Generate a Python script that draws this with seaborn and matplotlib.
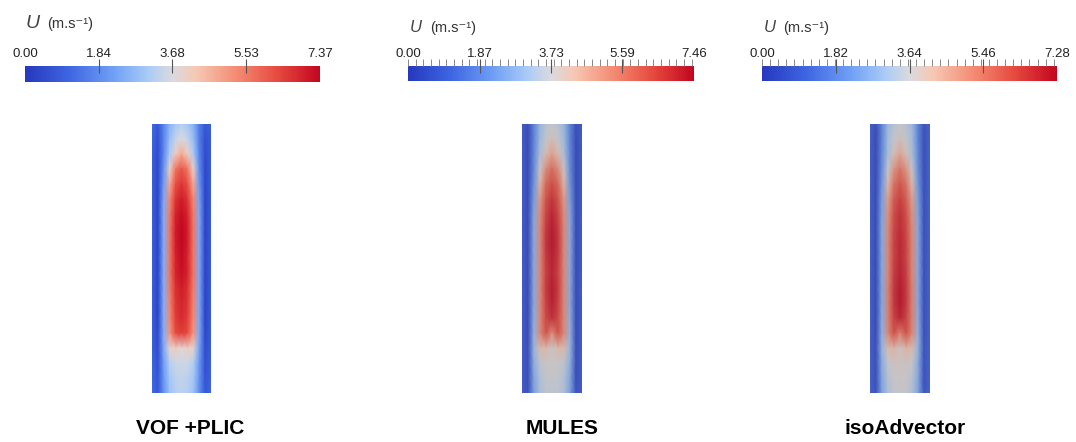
import matplotlib
matplotlib.use("Agg")
import numpy as np
import pandas as pd
import matplotlib.pyplot as plt
import seaborn as sns
from matplotlib.colors import LinearSegmentedColormap, ListedColormap, Normalize
from matplotlib.cm import ScalarMappable
from matplotlib.ticker import MultipleLocator

# ---------------- data (velocity magnitude, m/s) ----------------
methods = ["VOF +PLIC", "MULES", "isoAdvector"]
u_max = [7.37, 7.46, 7.28]
tick_labels = [
    ["0.00", "1.84", "3.68", "5.53", "7.37"],
    ["0.00", "1.87", "3.73", "5.59", "7.46"],
    ["0.00", "1.82", "3.64", "5.46", "7.28"],
]

# rows: top of pipe -> bottom ; columns: left wall -> right wall
vof_plic_u = [
    [1.2, 0.8, 1.7, 2.6, 3.0, 3.2, 3.0, 2.6, 1.6, 0.8, 1.0],
    [1.1, 0.6, 1.7, 2.8, 3.4, 3.7, 3.4, 2.8, 1.6, 0.6, 0.9],
    [1.0, 0.5, 1.8, 3.1, 4.1, 4.8, 4.1, 3.1, 1.7, 0.5, 0.9],
    [1.0, 0.4, 2.0, 4.0, 5.6, 6.1, 5.6, 4.0, 1.9, 0.4, 0.9],
    [1.0, 0.4, 2.2, 4.8, 6.2, 6.6, 6.2, 4.8, 2.1, 0.4, 0.9],
    [1.0, 0.3, 2.4, 5.3, 6.6, 7.0, 6.6, 5.3, 2.3, 0.3, 0.9],
    [1.0, 0.3, 2.5, 5.5, 6.9, 7.25, 6.9, 5.5, 2.4, 0.3, 0.9],
    [1.0, 0.3, 2.5, 5.6, 7.0, 7.35, 7.0, 5.6, 2.4, 0.3, 0.9],
    [1.0, 0.3, 2.5, 5.6, 7.0, 7.37, 7.0, 5.6, 2.4, 0.3, 0.9],
    [1.0, 0.3, 2.5, 5.6, 6.9, 7.3, 6.9, 5.6, 2.4, 0.3, 0.9],
    [1.0, 0.3, 2.5, 5.6, 6.9, 7.2, 6.9, 5.6, 2.4, 0.3, 0.9],
    [1.0, 0.3, 2.5, 5.5, 6.7, 7.0, 6.7, 5.5, 2.4, 0.3, 0.9],
    [1.0, 0.3, 2.5, 5.4, 6.6, 6.9, 6.6, 5.4, 2.4, 0.3, 0.9],
    [1.0, 0.3, 2.5, 5.3, 6.5, 6.8, 6.5, 5.3, 2.4, 0.3, 0.9],
    [1.0, 0.4, 2.5, 5.1, 6.3, 6.5, 6.3, 5.1, 2.4, 0.4, 0.9],
    [1.0, 0.5, 2.4, 3.9, 4.1, 3.8, 4.1, 3.9, 2.3, 0.5, 0.9],
    [1.1, 0.6, 2.2, 3.2, 3.5, 3.5, 3.5, 3.2, 2.1, 0.6, 1.0],
    [1.1, 0.7, 2.1, 3.0, 3.3, 3.4, 3.3, 3.0, 2.0, 0.7, 1.0],
    [1.2, 0.8, 2.0, 2.9, 3.2, 3.3, 3.2, 2.9, 1.9, 0.8, 1.1],
]

mules_u = [
    [0.8, 0.4, 1.8, 3.0, 3.5, 3.7, 3.5, 3.0, 1.8, 0.4, 0.8],
    [0.8, 0.3, 1.8, 3.1, 3.7, 4.0, 3.7, 3.1, 1.8, 0.3, 0.8],
    [0.8, 0.3, 1.9, 3.3, 4.2, 4.8, 4.2, 3.3, 1.9, 0.3, 0.8],
    [0.8, 0.3, 2.0, 3.8, 5.2, 5.8, 5.2, 3.8, 2.0, 0.3, 0.8],
    [0.8, 0.3, 2.2, 4.4, 5.9, 6.4, 5.9, 4.4, 2.2, 0.3, 0.8],
    [0.8, 0.3, 2.4, 4.9, 6.3, 6.9, 6.3, 4.9, 2.4, 0.3, 0.8],
    [0.8, 0.3, 2.6, 5.2, 6.6, 7.2, 6.6, 5.2, 2.6, 0.3, 0.8],
    [0.8, 0.3, 2.7, 5.3, 6.8, 7.4, 6.8, 5.3, 2.7, 0.3, 0.8],
    [0.8, 0.3, 2.7, 5.3, 6.9, 7.46, 6.9, 5.3, 2.7, 0.3, 0.8],
    [0.8, 0.3, 2.7, 5.3, 6.8, 7.3, 6.8, 5.3, 2.7, 0.3, 0.8],
    [0.8, 0.3, 2.7, 5.3, 6.7, 7.25, 6.7, 5.3, 2.7, 0.3, 0.8],
    [0.8, 0.3, 2.7, 5.3, 6.8, 7.4, 6.8, 5.3, 2.7, 0.3, 0.8],
    [0.8, 0.3, 2.7, 5.3, 6.7, 7.3, 6.7, 5.3, 2.7, 0.3, 0.8],
    [0.8, 0.3, 2.8, 5.3, 6.5, 7.0, 6.5, 5.3, 2.8, 0.3, 0.8],
    [0.8, 0.3, 2.9, 5.3, 6.3, 5.2, 6.3, 5.3, 2.9, 0.3, 0.8],
    [0.8, 0.4, 3.0, 4.2, 4.3, 3.8, 4.3, 4.2, 3.0, 0.4, 0.8],
    [0.8, 0.4, 2.8, 3.6, 3.8, 3.8, 3.8, 3.6, 2.8, 0.4, 0.8],
    [0.8, 0.4, 2.6, 3.4, 3.7, 3.7, 3.7, 3.4, 2.6, 0.4, 0.8],
    [0.8, 0.5, 2.5, 3.3, 3.6, 3.6, 3.6, 3.3, 2.5, 0.5, 0.8],
]

iso_advector_u = [
    [0.9, 0.4, 1.8, 3.0, 3.4, 3.6, 3.4, 3.0, 1.8, 0.5, 1.0],
    [0.9, 0.3, 1.8, 3.1, 3.6, 3.9, 3.6, 3.1, 1.8, 0.4, 1.0],
    [0.9, 0.3, 1.9, 3.2, 4.0, 4.6, 4.0, 3.2, 1.9, 0.4, 1.0],
    [0.9, 0.3, 2.0, 3.6, 4.9, 5.5, 4.9, 3.6, 2.0, 0.4, 1.0],
    [0.9, 0.3, 2.2, 4.2, 5.6, 6.1, 5.6, 4.2, 2.2, 0.4, 1.0],
    [0.9, 0.3, 2.4, 4.7, 6.0, 6.5, 6.0, 4.7, 2.4, 0.4, 1.0],
    [0.9, 0.3, 2.5, 5.0, 6.3, 6.8, 6.3, 5.0, 2.5, 0.4, 1.0],
    [0.9, 0.3, 2.6, 5.1, 6.4, 6.9, 6.4, 5.1, 2.6, 0.4, 1.0],
    [0.9, 0.3, 2.6, 5.2, 6.5, 7.0, 6.5, 5.2, 2.6, 0.4, 1.0],
    [0.9, 0.3, 2.6, 5.2, 6.5, 7.0, 6.5, 5.2, 2.6, 0.4, 1.0],
    [0.9, 0.3, 2.6, 5.2, 6.6, 7.1, 6.6, 5.2, 2.6, 0.4, 1.0],
    [0.9, 0.3, 2.6, 5.3, 6.7, 7.25, 6.7, 5.3, 2.6, 0.4, 1.0],
    [0.9, 0.3, 2.6, 5.3, 6.7, 7.28, 6.7, 5.3, 2.6, 0.4, 1.0],
    [0.9, 0.3, 2.7, 5.3, 6.5, 7.0, 6.5, 5.3, 2.7, 0.4, 1.0],
    [0.9, 0.3, 2.8, 5.2, 6.2, 5.3, 6.2, 5.2, 2.8, 0.4, 1.0],
    [0.9, 0.4, 2.9, 4.1, 4.3, 3.8, 4.3, 4.1, 2.9, 0.5, 1.0],
    [0.9, 0.4, 2.7, 3.6, 3.8, 3.8, 3.8, 3.6, 2.7, 0.5, 1.0],
    [0.9, 0.4, 2.6, 3.4, 3.7, 3.7, 3.7, 3.4, 2.6, 0.5, 1.0],
    [0.9, 0.5, 2.5, 3.3, 3.6, 3.6, 3.6, 3.3, 2.5, 0.6, 1.0],
]

fields = [vof_plic_u, mules_u, iso_advector_u]

# ---------------- style / layout (pixels) ----------------
W, H = 1076, 442
pipe_px = [(152, 124, 211, 393), (522, 124, 582, 393), (870, 124, 930, 393)]
cbar_px = [(25, 66, 320, 82), (408, 66, 694, 81), (762, 66, 1057, 81)]
title_px = [(26, 47, 28, 14), (410, 430, 32, 12), (764, 783, 32, 12)]
label_x = [190, 562, 905]
show_minor = [False, True, True]
shade_amount = [0.0, 0.2, 0.2]   # render shading (grey cast) of the field images

sns.set_style("white")
plt.rcParams["font.family"] = ["Liberation Sans", "DejaVu Sans"]

cmap = LinearSegmentedColormap.from_list(
    "cool_to_warm",
    [
        (0.00, (38 / 255, 56 / 255, 190 / 255)),
        (0.15, (62 / 255, 102 / 255, 226 / 255)),
        (0.30, (112 / 255, 160 / 255, 245 / 255)),
        (0.42, (172 / 255, 204 / 255, 246 / 255)),
        (0.50, (218 / 255, 218 / 255, 222 / 255)),
        (0.58, (246 / 255, 200 / 255, 180 / 255)),
        (0.72, (244 / 255, 138 / 255, 114 / 255)),
        (0.86, (230 / 255, 72 / 255, 62 / 255)),
        (1.00, (195 / 255, 6 / 255, 32 / 255)),
    ],
)
_base = cmap(np.linspace(0, 1, 256))
_grey = np.array([0.44, 0.44, 0.46, 1.0])


def shaded_cmap(k):
    if k == 0:
        return cmap
    return ListedColormap(_base * (1 - k) + _grey * k)


fig = plt.figure(figsize=(W / 100, H / 100), dpi=100)


def px_axes(x0, y0, x1, y1):
    return fig.add_axes([x0 / W, 1 - y1 / H, (x1 - x0) / W, (y1 - y0) / H])


for i, name in enumerate(methods):
    data = pd.DataFrame(fields[i])
    ax = px_axes(*pipe_px[i])
    sns.heatmap(
        data, ax=ax, cmap=shaded_cmap(shade_amount[i]), vmin=0, vmax=u_max[i],
        shading="gouraud", xticklabels=False, yticklabels=False, cbar=False,
        linewidths=0,
    )
    nr, nc = data.shape
    ax.set_xlim(0, nc - 1)
    ax.set_ylim(nr - 1, 0)
    ax.set_xticks([])
    ax.set_yticks([])
    for s in ax.spines.values():
        s.set_visible(False)

    # colour bar
    cax = px_axes(*cbar_px[i])
    sm = ScalarMappable(norm=Normalize(0, u_max[i]), cmap=cmap)
    cb = fig.colorbar(sm, cax=cax, orientation="horizontal")
    cb.outline.set_visible(False)
    pos = [float(t) for t in tick_labels[i]]
    cb.set_ticks(pos, labels=tick_labels[i])
    cax.set_axisbelow(False)
    cax.xaxis.set_ticks_position("top")
    cax.xaxis.set_label_position("top")
    cax.tick_params(axis="x", which="major", direction="inout", length=9.5,
                    width=0.8, color="#555555", pad=-0.6, labelsize=9.5,
                    labelcolor="#222222")
    ticks = cax.xaxis.get_major_ticks()
    for t in (ticks[0], ticks[-1]):
        t.tick1line.set_visible(False)
        t.tick2line.set_visible(False)
    if show_minor[i]:
        cax.xaxis.remove_overlapping_locs = False
        cax.xaxis.set_minor_locator(MultipleLocator(0.2))
        cax.tick_params(axis="x", which="minor", direction="out", length=5,
                        width=0.7, color="#888888")
    else:
        cax.xaxis.set_minor_locator(MultipleLocator(100))

    ux, px_, base, usize = title_px[i]
    fig.text(ux / W, 1 - base / H, "U", style="italic", fontsize=usize,
             color="#444444", va="baseline", ha="left")
    fig.text(px_ / W, 1 - base / H, "(m.s\u207b\u00b9)", fontsize=10.5,
             color="#333333", va="baseline", ha="left")

    fig.text(label_x[i] / W, 1 - 428 / H, name, fontsize=15,
             fontweight="bold", ha="center", va="center", color="black")

fig.savefig("out.png", dpi=100)
